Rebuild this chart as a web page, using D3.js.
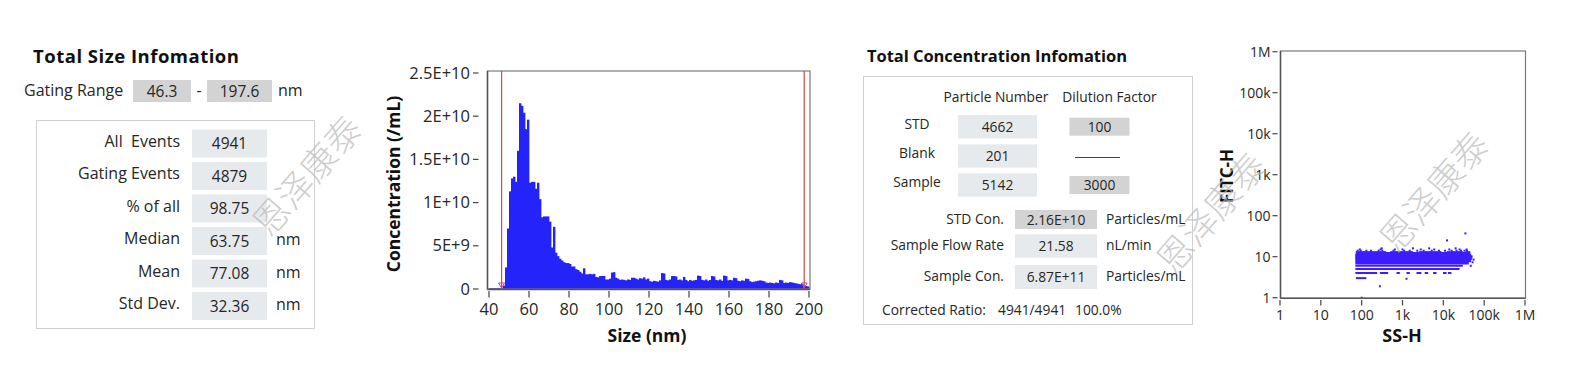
<!DOCTYPE html>
<html><head><meta charset="utf-8">
<script src="https://cdn.jsdelivr.net/npm/d3@7"></script>
<style>
html,body{margin:0;padding:0;background:#fff;}
svg{display:block;font-family:"Open Sans",sans-serif;}
</style></head><body>
<svg id="c" width="1579" height="378"></svg>
<script>
// ---------------- DATA ----------------
const gatingRange = ["46.3", "197.6"];
const sizeLabels = ["All  Events", "Gating Events", "% of all", "Median", "Mean", "Std Dev."];
const sizeValues = ["4941", "4879", "98.75", "63.75", "77.08", "32.36"];
const sizeUnits = ["", "", "", "nm", "nm", "nm"];

const binStart = 40, binWidth = 1;
// concentration per 1 nm bin, in units of 1E+9 /mL (bins 40..199 nm)
const concentration = [
  0.1,0.1,0.1,0.1,0.1,0.1,0.1,0.4,
  2.5,7.0,11.3,12.8,13.0,12.4,16.0,21.5,21.2,20.4,
  18.5,19.6,12.3,12.4,12.4,11.6,12.3,10.4,8.3,8.4,
  8.4,8.4,7.8,4.8,7.2,4.2,3.8,3.5,3.3,3.1,
  3.0,3.0,2.9,2.6,2.6,2.3,2.2,2.0,1.8,2.4,
  1.7,1.7,1.75,1.7,1.75,1.4,1.35,1.5,1.5,1.5,
  1.1,1.1,1.2,1.9,1.95,1.3,1.2,1.05,1.1,1.05,
  1.0,1.1,1.05,1.3,1.3,1.2,1.1,1.25,1.2,1.35,
  1.1,1.2,0.9,0.85,0.95,0.9,0.85,1.0,1.85,1.8,
  1.05,1.0,1.1,1.5,1.5,1.45,1.05,1.1,1.0,1.4,
  1.05,0.9,1.05,0.95,1.0,1.05,1.55,1.5,1.05,1.0,
  1.1,0.95,1.05,1.5,1.45,1.05,1.0,1.1,0.95,1.55,
  1.5,1.0,1.05,1.0,1.3,1.25,0.95,0.9,1.0,0.95,
  1.2,1.15,0.9,0.8,0.85,0.9,0.95,1.0,0.95,0.9,
  0.75,0.7,0.75,0.7,0.65,0.75,0.7,1.05,1.0,0.7,
  0.75,0.7,0.8,0.75,0.7,0.65,0.6,0.55,0.6,0.4,
  0.35,0.3
];
const gateLines = [46.3, 197.6];
const histXTicks = [40, 60, 80, 100, 120, 140, 160, 180, 200];
const histYTicks = [0, 5e9, 1e10, 1.5e10, 2e10, 2.5e10];
const histYTickLabels = ["0", "5E+9", "1E+10", "1.5E+10", "2E+10", "2.5E+10"];

const concRows = ["STD", "Blank", "Sample"];
const particleNumbers = ["4662", "201", "5142"];
const dilutionFactors = ["100", null, "3000"];
const conLabels = ["STD Con.", "Sample Flow Rate", "Sample Con."];
const conValues = ["2.16E+10", "21.58", "6.87E+11"];
const conUnits = ["Particles/mL", "nL/min", "Particles/mL"];
const correctedRatio = ["Corrected Ratio:", "4941/4941", "100.0%"];

// scatter: FITC-H is quantised to integer levels; each level is a dense run of events over an SS-H range
const fitcLevels = [3, 4, 5, 6, 7, 8, 9, 10, 11, 12];
const levelSSMin = [72, 70, 70, 70, 70, 70, 70, 70, 70, 72];
const levelSSMax = [130, 240, 25000, 30000, 42000, 48000, 50000, 52000, 48000, 45000];
const level4Runs = [[279,445],[713,860],[1250,1510],[2200,2900],[3500,4240],[5600,6800],[9800,12000],[13000,15800]];
const level13Runs = [[72,400],[500,1800],[2500,9000],[12000,30000],[35000,46000]];
const level14SS = [80,95,130,170,260,320,600,1100,1500,2300,3300,5200,7800,11000,16000,21000,27000,33000,38000];
const level15SS = [90,290,650,1000,2800,6000,14000,25000,37000];
const level16SS = [310,1800,4500,20000];
const outlierSS = [34700, 12300, 279, 100, 1250, 52000, 55000, 47000];
const outlierFITC = [37, 25, 1.9, 1, 2.9, 7.3, 8.5, 6];
const logTicks = [1, 10, 100, 1e3, 1e4, 1e5, 1e6];
const logTickLabels = ["1", "10", "100", "1k", "10k", "100k", "1M"];

const watermarkText = "恩泽康泰";

// ---------------- DRAW ----------------
const svg = d3.select("#c");
const TXT = "#262626";
const LIGHT = "#e7eaed", GRAY = "#d3d3d3", BORDER = "#d0d0d0";
const FS = 16, VS = 15.5;

// ===== Left panel: Total Size Infomation =====
const lp = svg.append("g");
lp.append("text").attr("x", 33).attr("y", 63).attr("font-size", 18.5).attr("font-weight", "bold")
  .attr("fill", "#111").attr("textLength", 206).attr("lengthAdjust", "spacing").text("Total Size Infomation");
lp.append("text").attr("x", 24).attr("y", 96).attr("font-size", FS).attr("fill", TXT).text("Gating Range");
const grBoxes = [[133, 191], [207, 272]];
grBoxes.forEach((b, i) => {
  lp.append("rect").attr("x", b[0]).attr("y", 80).attr("width", b[1] - b[0]).attr("height", 22).attr("fill", GRAY);
  lp.append("text").attr("x", (b[0] + b[1]) / 2).attr("y", 96.5).attr("text-anchor", "middle")
    .attr("font-size", VS).attr("fill", TXT).text(gatingRange[i]);
});
lp.append("text").attr("x", 199).attr("y", 96).attr("text-anchor", "middle").attr("font-size", FS).attr("fill", TXT).text("-");
lp.append("text").attr("x", 278).attr("y", 96).attr("font-size", FS).attr("fill", TXT).text("nm");
lp.append("rect").attr("x", 36.5).attr("y", 120.5).attr("width", 278).attr("height", 208)
  .attr("fill", "none").attr("stroke", BORDER);
const rowY = d3.scalePoint().domain(sizeLabels).range([129.5, 292]);
sizeLabels.forEach((lab, i) => {
  const y0 = rowY(lab), cy = y0 + 14;
  lp.append("rect").attr("x", 192).attr("y", y0).attr("width", 75).attr("height", 28).attr("fill", LIGHT);
  lp.append("text").attr("x", 180).attr("y", cy + 3).attr("text-anchor", "end").attr("font-size", FS)
    .attr("fill", TXT).style("white-space", "pre").text(lab);
  lp.append("text").attr("x", 229.5).attr("y", cy + 5.5).attr("text-anchor", "middle").attr("font-size", VS)
    .attr("fill", TXT).text(sizeValues[i]);
  if (sizeUnits[i]) lp.append("text").attr("x", 276).attr("y", cy + 4).attr("font-size", FS)
    .attr("fill", TXT).text(sizeUnits[i]);
});

// ===== Histogram =====
const hx = d3.scaleLinear().domain([40, 200]).range([489, 809]);
const hy = d3.scaleLinear().domain([0, 2.5e10]).range([289, 73]);
const hg = svg.append("g");
hg.selectAll("rect.bar").data(concentration).enter().append("rect").attr("class", "bar")
  .attr("x", (d, i) => hx(binStart + i * binWidth))
  .attr("width", (d, i) => hx(binStart + (i + 1) * binWidth) - hx(binStart + i * binWidth) + 0.4)
  .attr("y", d => hy(d * 1e9))
  .attr("height", d => hy(0) - hy(d * 1e9))
  .attr("fill", "#2323fa");
// frame
hg.append("rect").attr("x", 487.5).attr("y", 71).attr("width", 322.5).attr("height", 218)
  .attr("fill", "none").attr("stroke", "#7a7a7a").attr("stroke-width", 1.2);
hg.append("line").attr("x1", 487.5).attr("x2", 487.5).attr("y1", 71).attr("y2", 289.5).attr("stroke", "#555").attr("stroke-width", 1.5);
hg.append("line").attr("x1", 487.5).attr("x2", 810).attr("y1", 289.5).attr("y2", 289.5).attr("stroke", "#555").attr("stroke-width", 1.5);
// gate lines
gateLines.forEach(g => {
  const x = hx(g);
  hg.append("line").attr("x1", x).attr("x2", x).attr("y1", 71).attr("y2", 289).attr("stroke", "#d9463e").attr("stroke-width", 1.2);
  hg.append("path").attr("d", `M${x - 3},${283} L${x + 3},${283} L${x},${288} Z`).attr("fill", "none")
    .attr("stroke", "#c0409a").attr("stroke-width", 1);
});
// y ticks
const HT = 16.5;
histYTicks.forEach((t, i) => {
  const y = hy(t);
  hg.append("line").attr("x1", 473).attr("x2", 478.5).attr("y1", y).attr("y2", y).attr("stroke", "#444").attr("stroke-width", 1.2);
  hg.append("text").attr("x", 470).attr("y", y + 5.5).attr("text-anchor", "end").attr("font-size", HT).attr("fill", TXT).text(histYTickLabels[i]);
});
histXTicks.forEach(t => {
  const x = hx(t);
  hg.append("line").attr("x1", x).attr("x2", x).attr("y1", 291).attr("y2", 297.5).attr("stroke", "#444").attr("stroke-width", 1.2);
  hg.append("text").attr("x", x).attr("y", 315).attr("text-anchor", "middle").attr("font-size", HT).attr("fill", TXT).text(t);
});
hg.append("text").attr("transform", "translate(400,184) rotate(-90)").attr("text-anchor", "middle")
  .attr("font-size", 17.5).attr("font-weight", "bold").attr("fill", "#111").text("Concentration (/mL)");
hg.append("text").attr("x", 647).attr("y", 342).attr("text-anchor", "middle")
  .attr("font-size", 17.5).attr("font-weight", "bold").attr("fill", "#111").text("Size (nm)");

// ===== Concentration panel =====
const cp = svg.append("g");
const CF = 13.8;
cp.append("text").attr("x", 867).attr("y", 62).attr("font-size", 16.5).attr("font-weight", "bold")
  .attr("fill", "#111").attr("textLength", 260).attr("lengthAdjust", "spacing").text("Total Concentration Infomation");
cp.append("rect").attr("x", 863.5).attr("y", 76.5).attr("width", 329).attr("height", 248)
  .attr("fill", "none").attr("stroke", BORDER);
cp.append("text").attr("x", 996).attr("y", 102).attr("text-anchor", "middle").attr("font-size", CF).attr("fill", TXT).text("Particle Number");
cp.append("text").attr("x", 1109.5).attr("y", 102).attr("text-anchor", "middle").attr("font-size", CF).attr("fill", TXT).text("Dilution Factor");
const concRowTop = [115, 144.3, 173.3];
concRows.forEach((r, i) => {
  const y0 = concRowTop[i], cy = y0 + 11.7;
  cp.append("text").attr("x", 917).attr("y", cy + 2).attr("text-anchor", "middle").attr("font-size", CF).attr("fill", TXT).text(r);
  cp.append("rect").attr("x", 958).attr("y", y0).attr("width", 79).attr("height", 23.4).attr("fill", LIGHT);
  cp.append("text").attr("x", 997.5).attr("y", cy + 5).attr("text-anchor", "middle").attr("font-size", CF).attr("fill", TXT).text(particleNumbers[i]);
  if (dilutionFactors[i] !== null) {
    cp.append("rect").attr("x", 1069.5).attr("y", cy - 9).attr("width", 60).attr("height", 18).attr("fill", GRAY);
    cp.append("text").attr("x", 1099.5).attr("y", cy + 5).attr("text-anchor", "middle").attr("font-size", CF).attr("fill", TXT).text(dilutionFactors[i]);
  } else {
    cp.append("line").attr("x1", 1075).attr("x2", 1120).attr("y1", cy + 1.5).attr("y2", cy + 1.5).attr("stroke", "#444").attr("stroke-width", 1);
  }
});
const conBoxes = [[210, 229, GRAY], [234.3, 257.7, LIGHT], [265, 289, LIGHT]];
conLabels.forEach((lab, i) => {
  const b = conBoxes[i], cy = (b[0] + b[1]) / 2;
  cp.append("rect").attr("x", 1015).attr("y", b[0]).attr("width", 82).attr("height", b[1] - b[0]).attr("fill", b[2]);
  cp.append("text").attr("x", 1004).attr("y", cy + 4).attr("text-anchor", "end").attr("font-size", CF).attr("fill", TXT).text(lab);
  cp.append("text").attr("x", 1056).attr("y", cy + 5).attr("text-anchor", "middle").attr("font-size", CF).attr("fill", TXT).text(conValues[i]);
  cp.append("text").attr("x", 1106).attr("y", cy + 4).attr("font-size", CF).attr("fill", TXT).text(conUnits[i]);
});
[882, 998, 1075].forEach((x, i) => {
  cp.append("text").attr("x", x).attr("y", 314.5).attr("font-size", CF).attr("fill", TXT).text(correctedRatio[i]);
});

// ===== Scatter =====
const sx = d3.scaleLog().domain([1, 1e6]).range([1280, 1525]);
const sy = d3.scaleLog().domain([1, 1e6]).range([297.7, 51.7]);
const sg = svg.append("g");
const PT = "#3d1cff";
fitcLevels.forEach((lv, i) => {
  sg.append("line").attr("x1", sx(levelSSMin[i])).attr("x2", sx(levelSSMax[i]))
    .attr("y1", sy(lv)).attr("y2", sy(lv)).attr("stroke", PT).attr("stroke-width", lv >= 7 ? 3 : 2);
});
level4Runs.forEach(r => sg.append("line").attr("x1", sx(r[0])).attr("x2", sx(r[1]))
  .attr("y1", sy(4)).attr("y2", sy(4)).attr("stroke", PT).attr("stroke-width", 2));
level13Runs.forEach(r => sg.append("line").attr("x1", sx(r[0])).attr("x2", sx(r[1]))
  .attr("y1", sy(13)).attr("y2", sy(13)).attr("stroke", PT).attr("stroke-width", 1.8));
[[14, level14SS], [15, level15SS], [16, level16SS]].forEach(([lv, arr]) => {
  arr.forEach(s => sg.append("rect").attr("x", sx(s) - 1).attr("y", sy(lv) - 1).attr("width", 2).attr("height", 2).attr("fill", PT));
});
outlierSS.forEach((s, i) => sg.append("rect").attr("x", sx(s) - 1).attr("y", sy(outlierFITC[i]) - 1)
  .attr("width", 2).attr("height", 2).attr("fill", PT));
sg.append("rect").attr("x", 1280.5).attr("y", 51).attr("width", 245).attr("height", 247.3)
  .attr("fill", "none").attr("stroke", "#7a7a7a").attr("stroke-width", 1.2);
sg.append("line").attr("x1", 1280.5).attr("x2", 1280.5).attr("y1", 51).attr("y2", 298.3).attr("stroke", "#555").attr("stroke-width", 1.5);
sg.append("line").attr("x1", 1280.5).attr("x2", 1525.5).attr("y1", 298.3).attr("y2", 298.3).attr("stroke", "#555").attr("stroke-width", 1.5);
logTicks.forEach((t, i) => {
  const y = sy(t), x = sx(t);
  sg.append("line").attr("x1", 1272.5).attr("x2", 1277.5).attr("y1", y).attr("y2", y).attr("stroke", "#444").attr("stroke-width", 1.2);
  sg.append("text").attr("x", 1270.5).attr("y", y + 5).attr("text-anchor", "end").attr("font-size", 14).attr("fill", TXT).text(logTickLabels[i]);
  sg.append("line").attr("x1", x).attr("x2", x).attr("y1", 300).attr("y2", 305.5).attr("stroke", "#444").attr("stroke-width", 1.2);
  sg.append("text").attr("x", x).attr("y", 320).attr("text-anchor", "middle").attr("font-size", 14).attr("fill", TXT).text(logTickLabels[i]);
});
sg.append("text").attr("x", 1402).attr("y", 342).attr("text-anchor", "middle").attr("font-size", 18)
  .attr("font-weight", "bold").attr("fill", "#111").text("SS-H");
sg.append("text").attr("transform", "translate(1233,176) rotate(-90)").attr("text-anchor", "middle").attr("font-size", 17)
  .attr("font-weight", "bold").attr("fill", "#111").text("FITC-H");

// ===== Watermarks =====
[[305, 174], [1209, 211], [1432, 190]].forEach(([cx, cy]) => {
  svg.append("text").attr("transform", `translate(${cx},${cy}) rotate(-49)`).attr("text-anchor", "middle")
    .attr("dominant-baseline", "central").attr("font-family", "Noto Sans CJK SC").attr("font-weight", 300)
    .attr("font-size", 36).attr("fill", "#b8b8b8").attr("fill-opacity", 0.7).text(watermarkText);
});
</script>
</body></html>
